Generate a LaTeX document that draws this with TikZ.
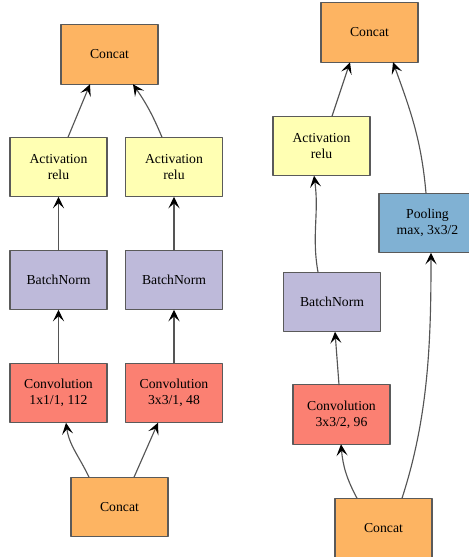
\documentclass[tikz,border=0pt]{standalone}
\usepackage{fontspec}
\setmainfont{Liberation Serif}
\usetikzlibrary{arrows.meta,calc}
\definecolor{ConcatBg}{HTML}{FDB462}
\definecolor{ActBg}{HTML}{FFFFB3}
\definecolor{NormBg}{HTML}{BEBADA}
\definecolor{ConvBg}{HTML}{FB8072}
\definecolor{PoolBg}{HTML}{80B1D3}
\definecolor{Edge}{HTML}{555555}
\definecolor{Border}{HTML}{5A5A5A}
\tikzset{
  layer/.style={draw=Border,line width=0.8pt,minimum width=1.94cm,minimum height=1.19cm,
    inner sep=0pt,outer sep=0pt,align=center,text=black,font=\fontsize{7.8}{8.9}\selectfont},
  concat box/.style={layer,fill=ConcatBg},
  act box/.style={layer,fill=ActBg},
  norm box/.style={layer,fill=NormBg},
  conv box/.style={layer,fill=ConvBg},
  pool box/.style={layer,fill=PoolBg},
  flow/.style={draw=Edge,line width=0.65pt,-{Stealth[length=2.3mm,width=2.2mm,inset=1.0mm,color=black]}}
}

\begin{document}
\begin{tikzpicture}[x=0.02cm,y=-0.02cm,line cap=round,line join=round]
  \useasboundingbox (0,0) rectangle (469,557);
  \clip (0,0) rectangle (469,557);

  % Left block
  \node[concat box] (catTopA) at (109.5,54.5) {Concat};
  \node[act box]    (actA)    at (58.5,167)   {Activation\\relu};
  \node[act box]    (actB)    at (174,167)    {Activation\\relu};
  \node[norm box]   (bnA)     at (58.5,280)   {BatchNorm};
  \node[norm box]   (bnB)     at (174,280)    {BatchNorm};
  \node[conv box]   (convA)   at (58.5,393)   {Convolution\\1x1/1, 112};
  \node[conv box]   (convB)   at (174,393)    {Convolution\\3x3/1, 48};
  \node[concat box] (catBotA) at (119.5,507)  {Concat};

  \draw[flow] ($(catBotA.north)+(-30.5,0)$) to[out=115,in=-82] ($(convA.south)+(7.5,0)$);
  \draw[flow] ($(catBotA.north)+(14.5,0)$) -- ($(convB.south)+(-16,0)$);
  \draw[flow] (convA.north) -- (bnA.south);
  \draw[flow] (convB.north) -- (bnB.south);
  \draw[flow] (bnA.north) -- (actA.south);
  \draw[flow] (bnB.north) -- (actB.south);
  \draw[flow] ($(actA.north)+(9.5,0)$) -- ($(catTopA.south)+(-19.5,0)$);
  \draw[flow] ($(actB.north)+(-12,0)$) to[bend right=6] ($(catTopA.south)+(23.5,0)$);

  % Right block
  \node[concat box] (catTopB) at (369.5,32.5) {Concat};
  \node[act box]    (actC)    at (321.5,146)  {Activation\\relu};
  \node[pool box]   (poolC)   at (427.5,223)  {Pooling\\max, 3x3/2};
  \node[norm box]   (bnC)     at (332,302)    {BatchNorm};
  \node[conv box]   (convC)   at (341.5,414.5) {Convolution\\3x3/2, 96};
  \node[concat box] (catBotB) at (383.5,528)  {Concat};

  \draw[flow] ($(catBotB.north)+(-26.5,0)$) to[out=118,in=-85] ($(convC.south)+(-0.5,0)$);
  \draw[flow] ($(catBotB.north)+(18.5,0)$) to[out=72,in=-90,looseness=0.9] ($(poolC.south)+(3.5,0)$);
  \draw[flow] ($(convC.north)+(-2.5,0)$) -- ($(bnC.south)+(3,0)$);
  \draw[flow] ($(bnC.north)+(-14,0)$) to[out=100,in=-82] ($(actC.south)+(-7.5,0)$);
  \draw[flow] ($(actC.north)+(10.5,0)$) -- ($(catTopB.south)+(-19.5,0)$);
  \draw[flow] ($(poolC.north)+(-1.5,0)$) to[out=95,in=-70] ($(catTopB.south)+(23.5,0)$);
\end{tikzpicture}
\end{document}
